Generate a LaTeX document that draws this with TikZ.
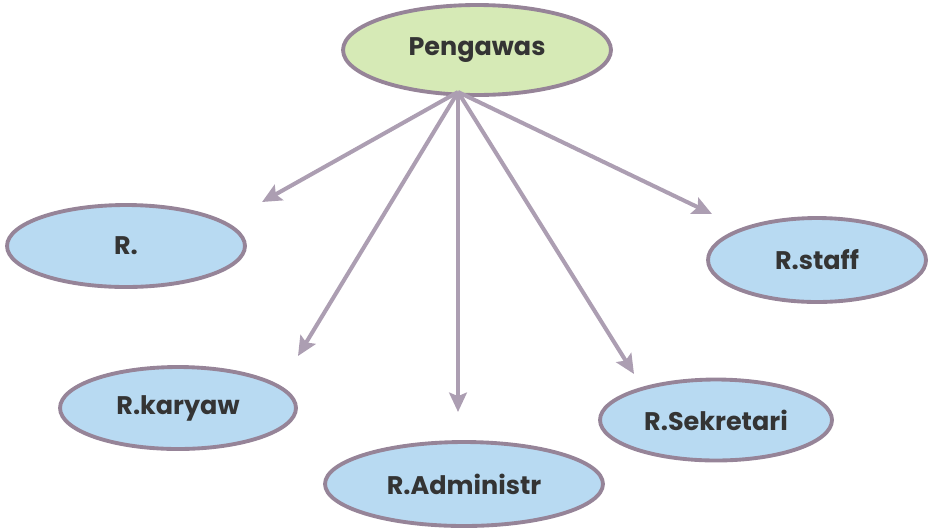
\documentclass[tikz,border=0pt]{standalone}
\usepackage{fontspec}
\setmainfont{Poppins}[BoldFont={* Bold}]
\usetikzlibrary{shapes.geometric,arrows.meta}
\definecolor{rimgray}{RGB}{150,132,152}
\definecolor{arrowgray}{RGB}{172,158,178}
\definecolor{headfill}{RGB}{214,234,182}
\definecolor{roomfill}{RGB}{184,218,242}
\definecolor{labeltext}{RGB}{52,52,52}
\begin{document}
\begin{tikzpicture}[x=0.02cm,y=-0.02cm,
  oval/.style={ellipse, draw=rimgray, line width=2.2pt, inner sep=0pt,
    font=\bfseries\fontsize{14.5}{18}\selectfont, text=labeltext},
  headoval/.style={oval, fill=headfill},
  roomoval/.style={oval, fill=roomfill},
  link/.style={draw=arrowgray, line width=2.3pt,
    -{Stealth[length=11pt,width=10pt,inset=2pt]}}]
\useasboundingbox (0,0) rectangle (928,528);

% supervisor at the top
\node[headoval, minimum width=5.36cm, minimum height=1.8cm] (boss) at (477,50) {Pengawas};

% rooms
\node[roomoval, minimum width=4.76cm, minimum height=1.64cm] (r) at (126,246) {R.};
\node[roomoval, minimum width=4.36cm, minimum height=1.68cm] (staff) at (817,260) {R.staff};
\node[roomoval, minimum width=4.72cm, minimum height=1.64cm] (karyaw) at (178,408) {R.karyaw};
\node[roomoval, minimum width=5.56cm, minimum height=1.68cm] (admin) at (464,484) {R.Administr};
\node[roomoval, minimum width=4.64cm, minimum height=1.62cm] (sekr) at (716,420) {R.Sekretari};

% arrows fan out from one point under the supervisor
\coordinate (hub) at (458,92);
\coordinate (toR) at (262,202);
\coordinate (toKaryaw) at (298,356);
\coordinate (toAdmin) at (458,412);
\coordinate (toSekr) at (634,374);
\coordinate (toStaff) at (712,214);
\draw[link] (hub) -- (toR);
\draw[link] (hub) -- (toKaryaw);
\draw[link] (hub) -- (toAdmin);
\draw[link] (hub) -- (toSekr);
\draw[link] (hub) -- (toStaff);
\end{tikzpicture}
\end{document}
